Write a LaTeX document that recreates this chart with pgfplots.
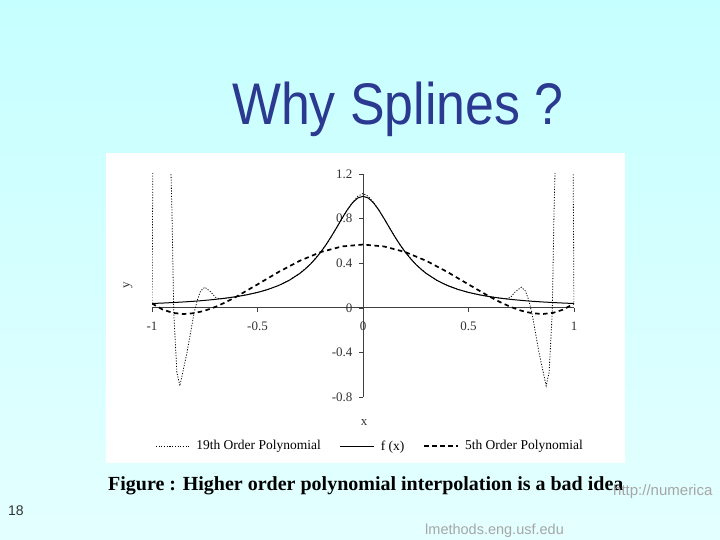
\documentclass[border=0pt]{standalone}
\usepackage{pgfplots}
\pgfplotsset{compat=1.18}
\usepackage{pgfplotstable}
\usepackage{fontspec}
\setmainfont{Liberation Serif}
\newfontfamily\slidesans{Liberation Sans}
\definecolor{titleblue}{RGB}{43,57,144}
\definecolor{bgtop}{RGB}{198,255,255}
\definecolor{bgbot}{RGB}{228,255,255}

% f(x) = Runge function
\pgfplotstableread{
x y
-1 0.0385
-0.95 0.0424
-0.9 0.0471
-0.85 0.0525
-0.8 0.0588
-0.75 0.0664
-0.7 0.0755
-0.65 0.0865
-0.6 0.1000
-0.55 0.1168
-0.5 0.1379
-0.45 0.1649
-0.4 0.2000
-0.35 0.2462
-0.3 0.3077
-0.275 0.3459
-0.25 0.3902
-0.225 0.4414
-0.2 0.5000
-0.175 0.5664
-0.15 0.6400
-0.125 0.7191
-0.1 0.8000
-0.075 0.8767
-0.05 0.9412
-0.025 0.9846
0 1.0000
0.025 0.9846
0.05 0.9412
0.075 0.8767
0.1 0.8000
0.125 0.7191
0.15 0.6400
0.175 0.5664
0.2 0.5000
0.225 0.4414
0.25 0.3902
0.275 0.3459
0.3 0.3077
0.35 0.2462
0.4 0.2000
0.45 0.1649
0.5 0.1379
0.55 0.1168
0.6 0.1000
0.65 0.0865
0.7 0.0755
0.75 0.0664
0.8 0.0588
0.85 0.0525
0.9 0.0471
0.95 0.0424
1 0.0385
}\fdata

\pgfplotstableread{
x y
-1 0.0385
-0.95 -0.0157
-0.9 -0.0460
-0.85 -0.0558
-0.8 -0.0481
-0.75 -0.0260
-0.7 0.0078
-0.65 0.0506
-0.6 0.1000
-0.5 0.2097
-0.4 0.3212
-0.3 0.4213
-0.2 0.5000
-0.1 0.5501
0 0.5673
0.1 0.5501
0.2 0.5000
0.3 0.4213
0.4 0.3212
0.5 0.2097
0.6 0.1000
0.65 0.0506
0.7 0.0078
0.75 -0.0260
0.8 -0.0481
0.85 -0.0558
0.9 -0.0460
0.95 -0.0157
1 0.0385
}\fifth

\pgfplotstableread{
x y
-1 0.038
-0.995 1.5
-0.95 5
-0.915 1.6
-0.905 0.83
-0.897 -0.04
-0.882 -0.58
-0.868 -0.70
-0.834 -0.40
-0.80 -0.04
-0.785 0.07
-0.77 0.15
-0.75 0.185
-0.72 0.14
-0.70 0.095
-0.68 0.08
-0.65 0.087
-0.6 0.100
-0.55 0.117
-0.5 0.138
-0.45 0.165
-0.4 0.200
-0.35 0.246
-0.3 0.308
-0.25 0.390
-0.2 0.500
-0.175 0.566
-0.15 0.640
-0.125 0.719
-0.1 0.800
-0.075 0.877
-0.05 0.945
-0.025 1.000
0 1.025
0.025 1.000
0.05 0.945
0.075 0.877
0.1 0.800
0.125 0.719
0.15 0.640
0.175 0.566
0.2 0.500
0.25 0.390
0.3 0.308
0.35 0.246
0.4 0.200
0.45 0.165
0.5 0.138
0.55 0.117
0.6 0.100
0.65 0.087
0.68 0.08
0.70 0.095
0.72 0.14
0.75 0.185
0.77 0.15
0.785 0.07
0.80 -0.04
0.834 -0.40
0.868 -0.70
0.882 -0.58
0.897 -0.04
0.905 0.83
0.915 1.6
0.95 5
0.995 1.5
1 0.038
}\nineteenth

\begin{document}
\begin{tikzpicture}[x=1pt,y=1pt]
\shade[top color=bgtop,bottom color=bgbot] (0,0) rectangle (720,540);
\fill[white] (106,77) rectangle (625,387);
\node[anchor=base west,inner sep=0pt,text=titleblue] at (232,415)
  {\scalebox{0.883}[1]{\slidesans\fontsize{58.7}{60}\selectfont Why Splines ?}};
\begin{axis}[
  at={(152pt,143pt)}, anchor=south west,
  scale only axis, width=422pt, height=223pt,
  xmin=-1, xmax=1, ymin=-0.8, ymax=1.2,
  axis lines=middle,
  axis line style={-, black!75, line width=0.6pt},
  xtick={-1,-0.5,0,0.5,1}, ytick={-0.8,-0.4,0,0.4,0.8,1.2},
  xticklabels={-1,-0.5,0,0.5,1},
  yticklabels={-0.8,-0.4,0,0.4,0.8,1.2},
  hide obscured x ticks=false, hide obscured y ticks=false,
  tick align=outside, major tick length=4pt,
  tick style={black!75, line width=0.5pt},
  tick label style={font=\fontsize{13}{13}\selectfont, text=black!80},
  x tick label style={yshift=-7pt},
  y tick label style={xshift=-3pt},
  legend columns=3,
  legend style={at={(0.517,-0.22)}, anchor=center, draw=none, fill=none,
    font=\fontsize{13.5}{14}\selectfont,
    /tikz/every odd column/.append style={column sep=4pt},
    /tikz/every even column/.append style={column sep=17pt},
    inner sep=0pt},
  legend image code/.code={\draw[#1] (0pt,0pt) -- (34pt,0pt);},
]
\addplot[black, line width=0.8pt, dash pattern=on 1.1pt off 1.6pt] table[x=x,y=y] {\nineteenth};
\addlegendentry{19th Order Polynomial}
\addplot[black, line width=1pt] table[x=x,y=y] {\fdata};
\addlegendentry{f (x)\hspace{14pt}}
\addplot[black, line width=1.7pt, dash pattern=on 4.5pt off 3.5pt] table[x=x,y=y] {\fifth};
\addlegendentry{5th Order Polynomial}
\end{axis}
\node[font=\fontsize{13}{13}\selectfont, text=black!80] at (364,117) {x};
\node[font=\fontsize{13}{13}\selectfont, text=black!80, rotate=90] at (128,255) {y};
\node[anchor=base west, inner sep=0pt, font=\bfseries\fontsize{20}{22}\selectfont] at (108,49)
  {Figure : Higher order polynomial interpolation is a bad idea};
\node[anchor=base west, inner sep=0pt, font=\slidesans\fontsize{15}{16}\selectfont, text=black!35] at (613,44) {http://numerica};
\node[anchor=base west, inner sep=0pt, font=\slidesans\fontsize{14.5}{16}\selectfont, text=black!35] at (425,5) {lmethods.eng.usf.edu};
\node[anchor=base west, inner sep=0pt, font=\slidesans\fontsize{14}{16}\selectfont, text=black!80] at (8,24) {18};
\end{tikzpicture}
\end{document}
